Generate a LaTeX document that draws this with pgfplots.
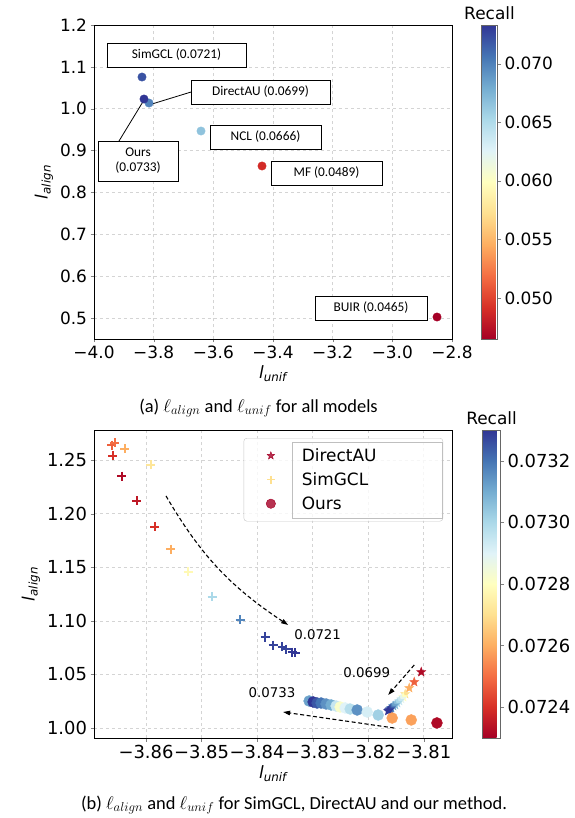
\RequirePackage{fix-cm}
\documentclass[border=0pt]{standalone}
\usepackage{fontspec}
\setmainfont{DejaVu Sans}
\newfontfamily\carlito{Carlito}
\usepackage{pgfplots}
\pgfplotsset{compat=1.18}
\usetikzlibrary{arrows.meta}

\pgfplotsset{colormap={rdylbu}{rgb255=(165,0,38) rgb255=(215,48,39) rgb255=(244,109,67) rgb255=(253,174,97) rgb255=(254,224,144) rgb255=(255,255,191) rgb255=(224,243,248) rgb255=(171,217,233) rgb255=(116,173,209) rgb255=(69,117,180) rgb255=(49,54,149)}}
\definecolor{rdark}{RGB}{165,0,38}
\definecolor{ylw}{RGB}{254,224,144}

% filled five-pointed star
\pgfdeclareplotmark{fstar}{%
  \pgfpathmoveto{\pgfpointpolar{90}{\pgfplotmarksize}}%
  \pgfpathlineto{\pgfpointpolar{126}{0.42\pgfplotmarksize}}%
  \pgfpathlineto{\pgfpointpolar{162}{\pgfplotmarksize}}%
  \pgfpathlineto{\pgfpointpolar{198}{0.42\pgfplotmarksize}}%
  \pgfpathlineto{\pgfpointpolar{234}{\pgfplotmarksize}}%
  \pgfpathlineto{\pgfpointpolar{270}{0.42\pgfplotmarksize}}%
  \pgfpathlineto{\pgfpointpolar{306}{\pgfplotmarksize}}%
  \pgfpathlineto{\pgfpointpolar{342}{0.42\pgfplotmarksize}}%
  \pgfpathlineto{\pgfpointpolar{18}{\pgfplotmarksize}}%
  \pgfpathlineto{\pgfpointpolar{54}{0.42\pgfplotmarksize}}%
  \pgfpathclose\pgfusepathqfillstroke}

\pgfplotsset{
  common/.style={
    scale only axis, width=358bp, scaled ticks=false,
    tick pos=left, tick align=outside, major tick length=3.5bp,
    grid=major, grid style={dashed, black!17, line width=0.6bp},
    axis line style={line width=0.8bp},
    xlabel={\itshape l\textsubscript{unif}}, ylabel={\itshape l\textsubscript{align}},
    label style={font=\fontsize{17}{20}\selectfont},
    colormap name=rdylbu, colorbar,
  },
  pts/.style={scatter, only marks, point meta=explicit,
    scatter/use mapped color={draw=mapped color, fill=mapped color}},
  nf/.style={/pgf/number format/fixed, /pgf/number format/fixed zerofill,
    /pgf/number format/precision=#1, /pgf/number format/assume math mode=true},
  cbar/.style={at={(parent axis.north east)}, anchor=north west,
    scale only axis, scaled ticks=false, ytick pos=right, tick align=outside, major tick length=3.5bp,
    axis line style={black!60, line width=0.8bp},
    title={Recall}, title style={font=\fontsize{17}{20}\selectfont, yshift=-4bp}},
}

\begin{document}
\begin{tikzpicture}
\path[use as bounding box] (0,0) rectangle (575bp,818bp);

% ---------- (a) all models ----------
\begin{axis}[common,
  at={(94bp,479bp)}, anchor=south west, height=314bp,
  xmin=-4, xmax=-2.8, ymin=0.45, ymax=1.2,
  xtick={-4,-3.8,-3.6,-3.4,-3.2,-3.0,-2.8},
  xticklabels={−4.0,−3.8,−3.6,−3.4,−3.2,−3.0,−2.8},
  ytick={0.5,0.6,0.7,0.8,0.9,1.0,1.1,1.2},
  yticklabel style={nf=1},
  tick label style={font=\fontsize{17}{20}\selectfont},
  point meta min=0.0465, point meta max=0.0733,
  colorbar style={cbar, xshift=21bp, width=16bp, height=314bp,
    ytick={0.05,0.055,0.06,0.065,0.07},
    yticklabel style={nf=3},
    tick label style={font=\fontsize{17}{20}\selectfont}},
]
\addplot[pts, mark=*, mark size=4.2bp] table[meta=c] {
x y c
-3.8391 1.0757 0.0721
-3.8156 1.0136 0.0699
-3.8324 1.0232 0.0733
-3.6413 0.9468 0.0666
-3.4368 0.8632 0.0489
-2.8502 0.5025 0.0465
};
\draw[line width=0.8bp] (axis cs:-3.8056,1.0113) -- (axis cs:-3.6748,1.0399);
\draw[line width=0.8bp] (axis cs:-3.8324,1.0208) -- (axis cs:-3.9162,0.9229);
\begin{scope}[every node/.style={draw, fill=white, line width=0.8bp, inner sep=0pt,
    minimum height=24bp, font=\carlito\fontsize{13.4}{15}\selectfont}]
\node[minimum width=139bp] at (axis cs:-3.7234,1.1283) {SimGCL (0.0721)};
\node[minimum width=139bp] at (axis cs:-3.4418,1.0399) {DirectAU (0.0699)};
\node[minimum width=111bp] at (axis cs:-3.4251,0.9324) {NCL (0.0666)};
\node[minimum width=111bp] at (axis cs:-3.2206,0.8465) {MF (0.0489)};
\node[minimum width=112bp] at (axis cs:-3.0714,0.5240) {BUIR (0.0465)};
\node[minimum width=80bp, minimum height=40bp, align=center] at (axis cs:-3.8525,0.8751) {Ours\\(0.0733)};
\end{scope}
\end{axis}

\node[font=\carlito\fontsize{18.5}{20}\selectfont] at (258.5bp,410bp)
  {(a) $\ell_{align}$ and $\ell_{unif}$ for all models};

% ---------- (b) SimGCL, DirectAU, ours ----------
\begin{axis}[common,
  at={(94bp,80bp)}, anchor=south west, height=308bp,
  xmin=-3.86936, xmax=-3.80491, ymin=0.99067, ymax=1.27803,
  xtick={-3.86,-3.85,-3.84,-3.83,-3.82,-3.81},
  xticklabels={−3.86,−3.85,−3.84,−3.83,−3.82,−3.81},
  ytick={1.0,1.05,1.1,1.15,1.2,1.25},
  yticklabel style={nf=2},
  tick label style={font=\fontsize{18}{21}\selectfont},
  point meta min=0.0723, point meta max=0.0733,
  colorbar style={cbar, xshift=22bp, width=18bp, height=308bp,
    ytick={0.0724,0.0726,0.0728,0.073,0.0732},
    yticklabel style={nf=4},
    tick label style={font=\fontsize{18}{21}\selectfont}},
  legend style={at={(0.975,0.974)}, anchor=north east, draw=black!22, rounded corners=3bp,
    fill=white, fill opacity=0.8, text opacity=1, font=\fontsize{17}{20}\selectfont,
    inner xsep=6bp, inner ysep=9bp, row sep=7bp,
    nodes={inner sep=0bp, text height=14.7bp, text depth=2.3bp}},
  legend cell align=left,
  legend image code/.code={\path[draw=none, fill=none] (0bp,-5bp) rectangle (52bp,5bp);
    \draw[#1] plot coordinates {(21bp,0bp)};},
]
\addlegendimage{only marks, mark=fstar, mark size=4bp, color=rdark}
\addlegendentry{\makebox[135bp][l]{DirectAU}}
\addlegendimage{only marks, mark=+, mark size=3.8bp, line width=1.3bp, color=ylw}
\addlegendentry{\makebox[135bp][l]{SimGCL}}
\addlegendimage{only marks, mark=*, mark size=4.7bp, color=rdark}
\addlegendentry{\makebox[135bp][l]{Ours}}

% DirectAU
\addplot[pts, forget plot, mark=fstar, mark size=4.8bp] table[meta=c] {
x y c
-3.81045 1.0522 0.07232
-3.81171 1.0429 0.07248
-3.81261 1.0373 0.07260
-3.81333 1.0317 0.07270
-3.81369 1.0289 0.07280
-3.81405 1.0271 0.07288
-3.81441 1.0252 0.07295
-3.81477 1.0233 0.07300
-3.81514 1.0215 0.07306
-3.81550 1.0205 0.07312
-3.81586 1.0187 0.07318
-3.81604 1.0177 0.07324
-3.81622 1.0168 0.07328
-3.81640 1.0159 0.07331
};
% SimGCL
\addplot[pts, forget plot, mark=+, mark size=4.5bp, line width=1.5bp] table[meta=c] {
x y c
-3.86612 1.2640 0.07248
-3.86559 1.2659 0.07250
-3.86595 1.2538 0.07240
-3.86378 1.2603 0.07260
-3.85910 1.2454 0.07272
-3.86432 1.2351 0.07232
-3.86162 1.2118 0.07235
-3.85838 1.1876 0.07240
-3.85550 1.1670 0.07260
-3.85243 1.1456 0.07278
-3.84811 1.1223 0.07300
-3.84306 1.1008 0.07317
-3.83856 1.0849 0.07328
-3.83712 1.0774 0.07328
-3.83550 1.0756 0.07328
-3.83477 1.0737 0.07328
-3.83369 1.0709 0.07330
-3.83315 1.0700 0.07330
};
% Ours
\addplot[pts, forget plot, mark=*, mark size=5.5bp] table[meta=c] {
x y c
-3.83063 1.0252 0.07312
-3.82991 1.0243 0.07330
-3.82919 1.0233 0.07325
-3.82847 1.0233 0.07320
-3.82757 1.0224 0.07315
-3.82667 1.0215 0.07310
-3.82577 1.0205 0.07295
-3.82505 1.0196 0.07282
-3.82414 1.0187 0.07290
-3.82324 1.0177 0.07298
-3.82198 1.0168 0.07315
-3.82018 1.0149 0.07292
-3.81820 1.0121 0.07302
-3.81568 1.0093 0.07258
-3.81225 1.0075 0.07258
-3.80762 1.0047 0.07232
};

\begin{scope}[dash pattern=on 4bp off 2.5bp, line width=1.1bp, -{Triangle[length=7bp,width=4.5bp]}]
\draw (axis cs:-3.85640,1.2165) to[bend right=13] (axis cs:-3.83441,1.0961);
\draw (axis cs:-3.81171,1.0588) -- (axis cs:-3.81640,1.0308);
\draw (axis cs:-3.81532,1.0000) -- (axis cs:-3.83532,1.0149);
\end{scope}
\begin{scope}[every node/.style={font=\fontsize{13.4}{15}\selectfont}]
\node at (axis cs:-3.82910,1.0868) {0.0721};
\node at (axis cs:-3.82027,1.0513) {0.0699};
\node at (axis cs:-3.83730,1.0327) {0.0733};
\end{scope}
\end{axis}
\draw[black!25, line width=0.6bp] (292bp,300bp) rectangle (442bp,376bp);

\node[font=\carlito\fontsize{18.5}{20}\selectfont] at (294bp,13bp)
  {(b) $\ell_{align}$ and $\ell_{unif}$ for SimGCL, DirectAU and our method.};
\end{tikzpicture}
\end{document}
